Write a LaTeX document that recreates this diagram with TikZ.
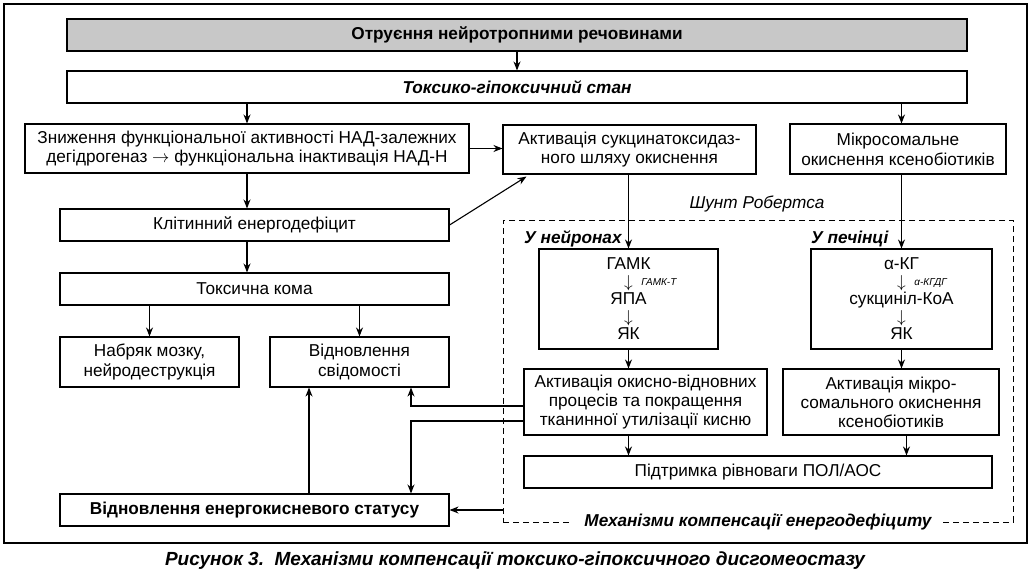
\documentclass[tikz,border=0pt]{standalone}
\usepackage{fontspec}
\setmainfont{Liberation Sans}
\usetikzlibrary{arrows.meta,positioning}
\definecolor{boxgray}{RGB}{200,200,200}
\newcommand{\fsz}{\fontsize{17.2}{19.8}\selectfont}

\begin{document}
\begin{tikzpicture}[x=1pt,y=-1pt]
\tikzset{blk/.style={draw,line width=1.1pt,inner sep=0pt,align=center,font=\fsz}}
\tikzset{chain/.style={blk,font=\fontsize{17.2}{17.5}\selectfont}}
\tikzset{arr/.style={line width=1.1pt,-{Stealth[length=9pt,width=7pt]}}}
\tikzset{ln/.style={line width=1.1pt}}
\useasboundingbox (0,0) rectangle (1036,573);
\draw[ln] (4,4) rectangle (1027,543);
\node[blk,fill=boxgray,minimum width=900pt,minimum height=32pt,font=\fsz\bfseries]
  (otr) at (517,35) {Отруєння нейротропними речовинами};
\node[blk,minimum width=900pt,minimum height=32pt,font=\fsz\bfseries\itshape]
  (tox) at (517,87) {Токсико-гіпоксичний стан};
\node[blk,minimum width=444pt,minimum height=49pt] (znyzh) at (247,148.5)
  {Зниження функціональної активності НАД-залежних\\дегідрогеназ $\rightarrow$ функціональна інактивація НАД-Н};
\node[blk,minimum width=253pt,minimum height=49pt] (aktsuk) at (629.5,149.5)
  {Активація сукцинатоксидаз-\\ного шляху окиснення};
\node[blk,minimum width=216pt,minimum height=50pt] (mikros) at (898,149)
  {Мікросомальне\\окиснення ксенобіотиків};
\node[blk,minimum width=389pt,minimum height=32pt] (klit) at (254.5,225) {Клітинний енергодефіцит};
\node[blk,minimum width=389pt,minimum height=32pt] (koma) at (254.5,289) {Токсична кома};
\node[blk,minimum width=179pt,minimum height=50pt] (nabr) at (149.5,362) {Набряк мозку,\\нейродеструкція};
\node[blk,minimum width=179pt,minimum height=50pt] (svid) at (359.5,362) {Відновлення\\свідомості};
\node[blk,minimum width=389pt,minimum height=32pt,font=\fsz\bfseries]
  (energo) at (254.5,510) {Відновлення енергокисневого статусу};
\node[draw,line width=0.9pt,dash pattern=on 6pt off 4pt,inner sep=0pt,
  minimum width=510pt,minimum height=302pt] (mech) at (758,371) {};
\node[chain,minimum width=179pt,minimum height=100pt] (gamk) at (628.5,299)
  {ГАМК\\$\downarrow$\rlap{\enspace\raisebox{2pt}{\fontsize{10}{10}\selectfont\itshape ГАМК-Т}}\\ЯПА\\$\downarrow$\\ЯК};
\node[chain,minimum width=181pt,minimum height=100pt] (akg) at (901.5,299)
  {α-КГ\\$\downarrow$\rlap{\enspace\raisebox{2pt}{\fontsize{10}{10}\selectfont\itshape α-КГДГ}}\\сукциніл-КоА\\$\downarrow$\\ЯК};
\node[blk,minimum width=243pt,minimum height=66pt,font=\fontsize{17.2}{19}\selectfont] (okysn) at (645.5,402)
  {Активація окисно-відновних\\процесів та покращення\\тканинної утилізації кисню};
\node[blk,minimum width=216pt,minimum height=66pt,font=\fontsize{17.2}{19}\selectfont] (mikro) at (891,402)
  {Активація мікро-\\сомального окиснення\\ксенобіотиків};
\node[blk,minimum width=468pt,minimum height=32pt] (pidtr) at (758,472) {Підтримка рівноваги ПОЛ/АОС};
\node[font=\fsz\itshape] (shunt) at (757,204) {Шунт Робертса};
\node[anchor=west,inner sep=0pt,font=\fsz\bfseries\itshape] (neur) at (524,239) {У нейронах};
\node[anchor=west,inner sep=0pt,font=\fsz\bfseries\itshape] (pech) at (811,239) {У печінці};
\node[fill=white,inner xsep=11pt,inner ysep=2pt,font=\fsz\bfseries\itshape]
  (mechlbl) at (mech.south) {Механізми компенсації енергодефіциту};
\node[font=\fontsize{19}{22}\selectfont\bfseries\itshape] (cap) at (515,561)
  {Рисунок 3.\ \ Механізми компенсації токсико-гіпоксичного дисгомеостазу};
\coordinate (jx) at (411,0);
\coordinate (jy) at (309,0);
\draw[arr] (otr) -- (tox);
\draw[arr] (znyzh.north |- tox.south) -- (znyzh.north);
\draw[arr] (akg.north |- tox.south) -- (akg.north |- mikros.north);
\draw[arr] (znyzh.east) -- (znyzh.east -| aktsuk.west);
\draw[arr] (znyzh.south) -- (znyzh.south |- klit.north);
\draw[arr] (znyzh.south |- klit.south) -- (znyzh.south |- koma.north);
\draw[arr] (klit.east) -- ([xshift=24pt,yshift=-2pt]aktsuk.south west);
\draw[arr] (nabr.north |- koma.south) -- (nabr.north);
\draw[arr] (svid.north |- koma.south) -- (svid.north);
\draw[arr] (aktsuk.south -| gamk.north) -- (gamk.north);
\draw[arr] (akg.north |- mikros.south) -- (akg.north);
\draw[arr] (gamk.south) -- (gamk.south |- okysn.north);
\draw[arr] (akg.south) -- (akg.south |- mikro.north);
\draw[arr] (gamk.south |- okysn.south) -- (gamk.south |- pidtr.north);
\draw[arr] ([xshift=5pt]akg.south |- mikro.south) -- ([xshift=5pt]akg.south |- pidtr.north);
\draw[arr] ([yshift=-4pt]okysn.west) -| (jx |- svid.south);
\draw[arr] ([yshift=-19pt]okysn.west) -| (jx |- energo.north);
\draw[arr] (jy |- energo.north) -- (jy |- svid.south);
\draw[arr] (energo.east -| mech.west) -- (energo.east);
\end{tikzpicture}
\end{document}
